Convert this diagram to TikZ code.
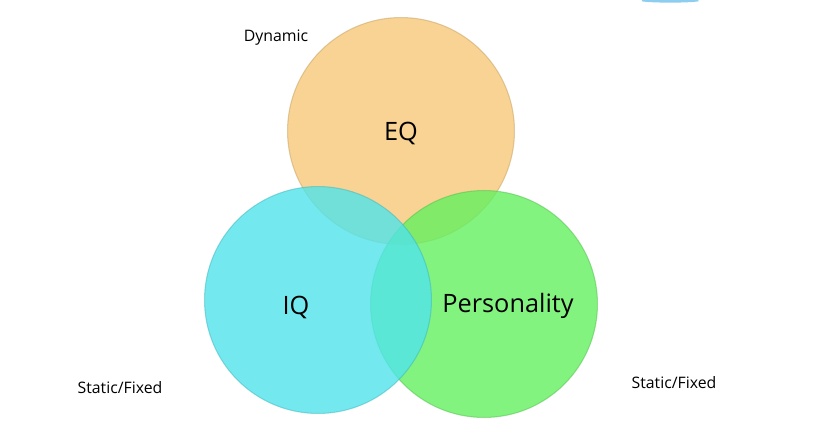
\documentclass[tikz,border=0pt]{standalone}
\usepackage{fontspec}
\setmainfont{Open Sans}
\usetikzlibrary{positioning}
\definecolor{eqfill}{RGB}{246, 200, 120}
\definecolor{iqfill}{RGB}{80, 228, 235}
\definecolor{pefill}{RGB}{100, 240, 95}
\definecolor{topblue}{RGB}{140, 205, 240}
\tikzset{
    set/.style={circle, minimum size=4.54cm, fill opacity=0.8, draw opacity=0.5, line width=0.6pt},
    setlabel/.style={font=\Large},
    side/.style={font=\small}
}
\begin{document}
\begin{tikzpicture}[x=0.02cm, y=-0.02cm]
    \useasboundingbox (0, 0) rectangle (818, 433);
    % Sets
    \node[set, fill=eqfill, draw=eqfill!80!black] (eq) at (401, 131) {};
    \node[set, fill=pefill, draw=pefill!80!black] (pe) at (484, 304) {};
    \node[set, fill=iqfill, draw=iqfill!80!black] (iq) at (318, 300) {};

    % Labels
    \node[setlabel] (eqlabel) at (401, 133) {EQ};
    \node[setlabel] (iqlabel) at (296, 307) {IQ};
    \node[setlabel] (pelabel) at (508, 306) {Personality};

    % Side notes
    \node[side] (dynamic) at (276, 38) {Dynamic};
    \node[side] (staticleft) at (120, 388) {Static/Fixed};
    \node[side] (staticright) at (674, 383) {Static/Fixed};

    % Top corner
    \draw[topblue, line width=1.5pt] (642, 0) arc[start angle=200, end angle=340, x radius=30, y radius=-2];
\end{tikzpicture}
\end{document}
